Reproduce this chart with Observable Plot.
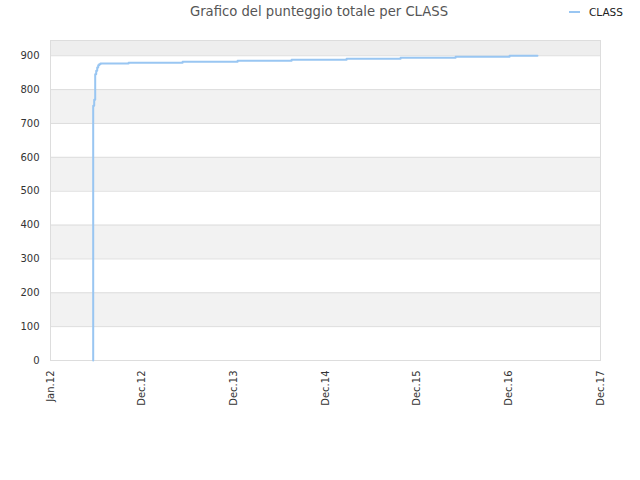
<!DOCTYPE html>
<html>
<head>
<meta charset="utf-8">
<script src="https://cdn.jsdelivr.net/npm/d3@7"></script>
<script src="https://cdn.jsdelivr.net/npm/@observablehq/plot@0.6"></script>
<style>
  html, body { margin: 0; padding: 0; background: #fff; }
  #wrap { position: relative; width: 640px; height: 480px; font-family: "DejaVu Sans", sans-serif; }
  #title { position: absolute; top: 4px; left: 0; width: 638px; text-align: center; font-size: 13.2px; color: #555; }
  #legend { position: absolute; top: 6px; left: 569px; font-size: 10.5px; color: #222; display: flex; align-items: center; }
  #legend .sw { width: 11px; height: 2px; background: #99c6f2; margin-right: 9px; }
  #chart { position: absolute; top: 0; left: 0; }
</style>
</head>
<body>
<div id="wrap">
  <div id="chart"></div>
  <div id="title">Grafico del punteggio totale per CLASS</div>
  <div id="legend"><span class="sw"></span><span>CLASS</span></div>
</div>
<script>
// Series: dates and cumulative score (step-after)
const dates = [
  "2012-06-19", "2012-06-19", "2012-06-23", "2012-06-27", "2012-07-01", "2012-07-05",
  "2012-07-09", "2012-07-13", "2012-07-18", "2012-11-07", "2013-06-10", "2014-01-15",
  "2014-08-18", "2015-03-25", "2015-10-26", "2016-06-01", "2017-01-02", "2017-04-23"
];
const scores = [
  0, 752, 770, 845, 856, 865,
  872, 875, 877, 879, 882, 885,
  888, 891, 894, 897, 900, 900
];
// X tick positions (every 365 days from start) and labels
const xTickDates = ["2012-01-01", "2012-12-31", "2013-12-31", "2014-12-31", "2015-12-31", "2016-12-30", "2017-12-30"];
const xTickLabels = ["Jan.12", "Dec.12", "Dec.13", "Dec.14", "Dec.15", "Dec.16", "Dec.17"];
const yTicks = [0, 100, 200, 300, 400, 500, 600, 700, 800, 900];
const bandStarts = [100, 300, 500, 700];
const yMax = 945;

const parse = d3.utcParse("%Y-%m-%d");
const data = dates.map((d, i) => ({date: parse(d), score: scores[i]}));
const tickDates = xTickDates.map(parse);
const labelOf = new Map(tickDates.map((d, i) => [+d, xTickLabels[i]]));
const bands = bandStarts.map(b => ({y1: b, y2: b + 100}));

const chart = Plot.plot({
  width: 640,
  height: 480,
  marginLeft: 50,
  marginRight: 40,
  marginTop: 40,
  marginBottom: 120,
  style: {fontFamily: "DejaVu Sans, sans-serif", fontSize: "10px", color: "#333", background: "#fff"},
  x: {type: "utc", domain: [tickDates[0], tickDates[tickDates.length - 1]]},
  y: {domain: [0, yMax]},
  marks: [
    Plot.rect(bands, {x1: tickDates[0], x2: tickDates[tickDates.length - 1], y1: "y1", y2: "y2", fill: "#f2f2f2"}),
    Plot.rect([{y1: 900, y2: yMax}], {x1: tickDates[0], x2: tickDates[tickDates.length - 1], y1: "y1", y2: "y2", fill: "#eeeeee"}),
    Plot.ruleY(yTicks, {stroke: "#dddddd", strokeWidth: 1}),
    Plot.frame({stroke: "#dddddd"}),
    Plot.axisY({ticks: yTicks, tickSize: 0, tickPadding: 11, label: null, fill: "#333"}),
    Plot.axisX({ticks: tickDates, tickFormat: d => labelOf.get(+d), tickRotate: -90, tickSize: 0, tickPadding: 10, label: null, fill: "#333"}),
    Plot.line(data, {x: "date", y: "score", curve: "step-after", stroke: "#99c6f2", strokeWidth: 2})
  ]
});
document.getElementById("chart").appendChild(chart);
</script>
</body>
</html>
